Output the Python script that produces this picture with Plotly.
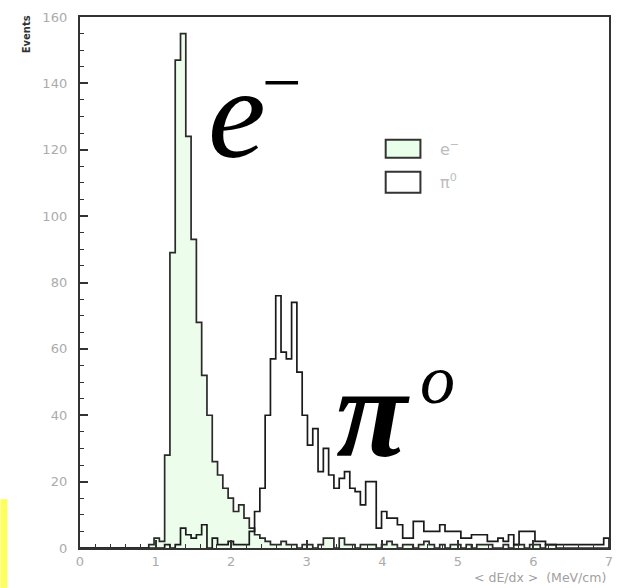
import plotly.graph_objects as go

# Histogram binning: 100 bins over 0..7 MeV/cm
x_min, x_max, n_bins = 0.0, 7.0, 100

# Counts per bin, electron sample
electron_counts = [
    0, 0, 0, 0, 0, 0, 0, 0, 0, 0,
    0, 0, 0, 1, 3, 2, 28, 89, 147, 155,
    124, 93, 68, 52, 40, 26, 22, 18, 15, 11,
    13, 9, 6, 4, 3, 2, 1, 1, 2, 1,
    1, 0, 1, 1, 0, 1, 3, 3, 0, 3,
    1, 1, 0, 1, 1, 1, 0, 1, 2, 1,
    0, 1, 1, 0, 1, 2, 1, 0, 1, 0,
    1, 1, 0, 1, 0, 1, 1, 1, 0, 0,
    1, 0, 1, 1, 0, 1, 1, 0, 1, 1,
    0, 0, 0, 0, 0, 0, 0, 0, 0, 0,
]

# Counts per bin, neutral pion sample
pion_counts = [
    0, 0, 0, 0, 0, 0, 0, 0, 0, 0,
    0, 0, 0, 0, 0, 0, 1, 0, 1, 6,
    4, 3, 4, 7, 0, 3, 1, 1, 2, 1,
    1, 1, 5, 11, 18, 40, 57, 76, 59, 57,
    74, 53, 40, 31, 36, 23, 30, 22, 18, 21,
    23, 18, 17, 13, 20, 20, 6, 11, 9, 9,
    7, 3, 3, 8, 8, 5, 5, 5, 7, 5,
    5, 5, 3, 3, 4, 4, 4, 2, 2, 3,
    2, 4, 1, 5, 5, 5, 2, 2, 1, 1,
    1, 1, 1, 1, 1, 1, 1, 1, 1, 3,
]

y_range = [0, 160]
y_tick_values = [0, 20, 40, 60, 80, 100, 120, 140, 160]
x_tick_values = [0, 1, 2, 3, 4, 5, 6, 7]

# Figure geometry (pixels)
W, H = 623, 588
L, R, T, B = 80, 10, 16, 40
PW, PH = W - L - R, H - T - B


def px(x):
    return (x - L) / PW


def py(y):
    return (H - B - y) / PH


bin_w = (x_max - x_min) / n_bins
edges = [x_min + i * bin_w for i in range(n_bins + 1)]


def outline(counts):
    xs = [edges[0]] + edges
    ys = [0] + list(counts) + [0]
    return xs, ys


fig = go.Figure()

ex, ey = outline(electron_counts)
fig.add_trace(go.Scatter(
    x=ex, y=ey, mode="lines", line_shape="hv",
    line=dict(color="#2a2a2a", width=1.7),
    fill="tozeroy", fillcolor="#ecfdec",
    name="e-", showlegend=False, hoverinfo="skip",
))

pxs, pys = outline(pion_counts)
fig.add_trace(go.Scatter(
    x=pxs, y=pys, mode="lines", line_shape="hv",
    line=dict(color="#1a1a1a", width=1.7),
    name="pi0", showlegend=False, hoverinfo="skip",
))

tick_font = dict(family="DejaVu Sans, sans-serif", size=13, color="#ababab")

fig.update_xaxes(
    range=[x_min, x_max], tickvals=x_tick_values,
    ticks="inside", ticklen=8, tickwidth=1.5, tickcolor="#333",
    minor=dict(ticks="inside", dtick=0.2, ticklen=4, tickwidth=1.2, tickcolor="#333"),
    showline=True, linewidth=2.4, linecolor="#333", mirror=True,
    showgrid=False, zeroline=False, tickfont=tick_font,
)
fig.update_yaxes(
    range=y_range, tickvals=y_tick_values,
    ticks="inside", ticklen=8, tickwidth=1.5, tickcolor="#333",
    minor=dict(ticks="inside", dtick=5, ticklen=4, tickwidth=1.2, tickcolor="#333"),
    showline=True, linewidth=2.4, linecolor="#333", mirror=True,
    showgrid=False, zeroline=False, tickfont=tick_font, ticklabelstandoff=8,
)

shapes = [
    # legend swatches
    dict(type="rect", xref="paper", yref="paper",
         x0=px(388), x1=px(423), y0=py(157), y1=py(139),
         line=dict(color="#333", width=2), fillcolor="#eaffea"),
    dict(type="rect", xref="paper", yref="paper",
         x0=px(388), x1=px(423), y0=py(192), y1=py(171),
         line=dict(color="#333", width=2), fillcolor="white"),
    # yellow marker strip at the lower left edge
    dict(type="rect", xref="paper", yref="paper",
         x0=px(0), x1=px(7), y0=py(588), y1=py(499),
         line=dict(width=0), fillcolor="#ffff5a", layer="below"),
]

legend_font = dict(family="DejaVu Sans, sans-serif", size=16, color="#bdbdbd")
big_serif = "Liberation Serif, Times New Roman, serif"


def note(text, x, y, font, xanchor="center", yanchor="middle", **kw):
    return dict(text=text, x=px(x), y=py(y), xref="paper", yref="paper",
                xanchor=xanchor, yanchor=yanchor, showarrow=False, font=font, **kw)


annotations = [
    note("e<sup>−</sup>", 441, 148, legend_font, xanchor="left"),
    note("π<sup>0</sup>", 441, 181, legend_font, xanchor="left"),
    # large particle labels
    note("<i>e</i>", 238, 112, dict(family=big_serif, size=130, color="black")),
    note("−", 283, 82, dict(family=big_serif, size=70, color="black")),
    note("<b><i>π</i></b>", 375, 412, dict(family=big_serif, size=130, color="black")),
    note("<i>o</i>", 440, 379, dict(family=big_serif, size=70, color="black")),
    # axis titles
    note("&lt; dE/dx &gt;  (MeV/cm)", 612, 578,
         dict(family="DejaVu Sans, sans-serif", size=12.5, color="#a0a0a0"),
         xanchor="right"),
    note("<b>Events</b>", 27, 33,
         dict(family="DejaVu Sans, sans-serif", size=10, color="#333"),
         textangle=-90),
]

fig.update_layout(
    width=W, height=H,
    margin=dict(l=L, r=R, t=T, b=B),
    paper_bgcolor="white", plot_bgcolor="white",
    shapes=shapes, annotations=annotations,
    showlegend=False,
)

fig.write_html("out.html")
